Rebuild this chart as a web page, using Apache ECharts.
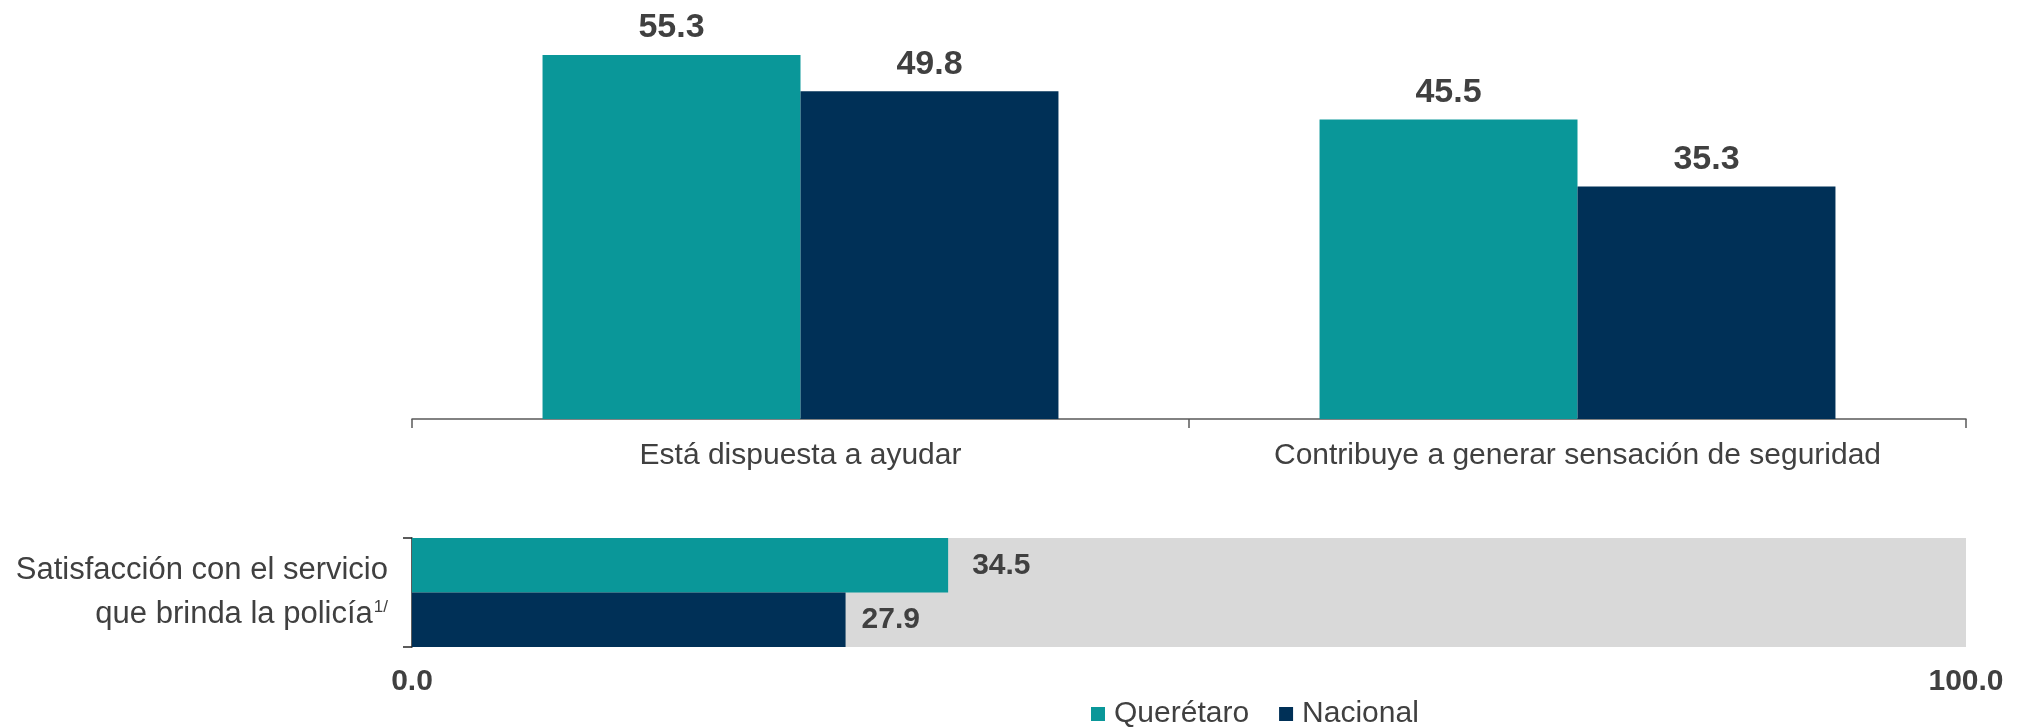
<!DOCTYPE html>
<html>
<head>
<meta charset="utf-8">
<script src="https://cdn.jsdelivr.net/npm/echarts@6/dist/echarts.min.js"></script>
<style>
  html, body { margin: 0; padding: 0; background: #fff; }
  #chart { width: 2017px; height: 728px; }
</style>
</head>
<body>
<div id="chart"></div>
<script>
// datos
const categorias = ['Está dispuesta a ayudar', 'Contribuye a generar sensación de seguridad']
const queretaro = [55.3, 45.5]
const nacional = [49.8, 35.3]

const satCategoria = ['satisfaccion']
const satQueretaro = [34.5]
const satNacional = [27.9]
const satTotal = [100]

const colorQro = '#0A9799'
const colorNac = '#003057'
const fuente = 'Liberation Sans, Arial, sans-serif'
const gris = '#404040'

const myChart = echarts.init(document.getElementById('chart'))

const etiqueta = (pos, size, dist) => ({
  show: true,
  position: pos,
  distance: dist,
  fontFamily: fuente,
  fontSize: size,
  fontWeight: 'bold',
  color: gris,
  formatter: p => p.value.toFixed(1)
})

myChart.setOption({
  animation: false,
  textStyle: { fontFamily: fuente },
  legend: {
    data: ['Querétaro', 'Nacional'],
    left: 1086,
    top: 694,
    itemWidth: 14,
    itemHeight: 14,
    itemGap: 30,
    icon: 'rect',
    textStyle: { fontSize: 30, color: gris, fontFamily: fuente, padding: [0, 0, 0, 4] }
  },
  grid: [
    { left: 412, right: 51, top: 24, height: 395 },
    { left: 412, right: 51, top: 538, height: 109 }
  ],
  xAxis: [
    {
      type: 'category',
      gridIndex: 0,
      data: categorias,
      axisLine: { lineStyle: { color: '#595959', width: 1.5 } },
      axisTick: { show: true, interval: 0, length: 9, lineStyle: { color: '#595959', width: 1.5 } },
      axisLabel: { interval: 0, fontSize: 30, color: gris, margin: 22, fontFamily: fuente }
    },
    {
      type: 'value',
      gridIndex: 1,
      min: 0,
      max: 100,
      interval: 100,
      splitLine: { show: false },
      axisLine: { show: false },
      axisTick: { show: false },
      axisLabel: {
        fontSize: 30, fontWeight: 'bold', color: gris, margin: 20, fontFamily: fuente,
        formatter: v => v.toFixed(1)
      }
    }
  ],
  yAxis: [
    { type: 'value', gridIndex: 0, min: 0, max: 60, show: false },
    {
      type: 'category',
      gridIndex: 1,
      inverse: true,
      data: satCategoria,
      axisLine: { lineStyle: { color: '#262626', width: 1.5 } },
      axisTick: { show: true, length: 9, lineStyle: { color: '#262626', width: 1.5 } },
      axisLabel: {
        margin: 24,
        align: 'right',
        formatter: () => '{a|Satisfacción con el servicio}\n{a|que brinda la policía}{sup|1/}',
        rich: {
          a: { fontSize: 31, lineHeight: 44, color: gris, fontFamily: fuente },
          sup: { fontSize: 17, lineHeight: 20, color: gris, fontFamily: fuente, verticalAlign: 'top', padding: [6, 0, 0, 1] }
        }
      }
    },
    { type: 'category', gridIndex: 1, data: satCategoria, show: false }
  ],
  series: [
    {
      name: 'Querétaro',
      type: 'bar',
      xAxisIndex: 0,
      yAxisIndex: 0,
      data: queretaro,
      barWidth: '33.2%',
      barGap: 0,
      itemStyle: { color: colorQro },
      label: etiqueta('top', 34, 10)
    },
    {
      name: 'Nacional',
      type: 'bar',
      xAxisIndex: 0,
      yAxisIndex: 0,
      data: nacional,
      barWidth: '33.2%',
      barGap: 0,
      itemStyle: { color: colorNac },
      label: etiqueta('top', 34, 10)
    },
    {
      name: 'fondo',
      type: 'bar',
      xAxisIndex: 1,
      yAxisIndex: 2,
      data: satTotal,
      barWidth: '100%',
      silent: true,
      z: 1,
      itemStyle: { color: '#D9D9D9' }
    },
    {
      name: 'Querétaro',
      type: 'bar',
      xAxisIndex: 1,
      yAxisIndex: 1,
      data: satQueretaro,
      barWidth: '50%',
      barGap: 0,
      z: 3,
      itemStyle: { color: colorQro },
      label: etiqueta('right', 30, 24)
    },
    {
      name: 'Nacional',
      type: 'bar',
      xAxisIndex: 1,
      yAxisIndex: 1,
      data: satNacional,
      barWidth: '50%',
      barGap: 0,
      z: 3,
      itemStyle: { color: colorNac },
      label: etiqueta('right', 30, 16)
    }
  ]
})

window.onresize = function() {
  myChart.resize()
}
</script>
</body>
</html>
